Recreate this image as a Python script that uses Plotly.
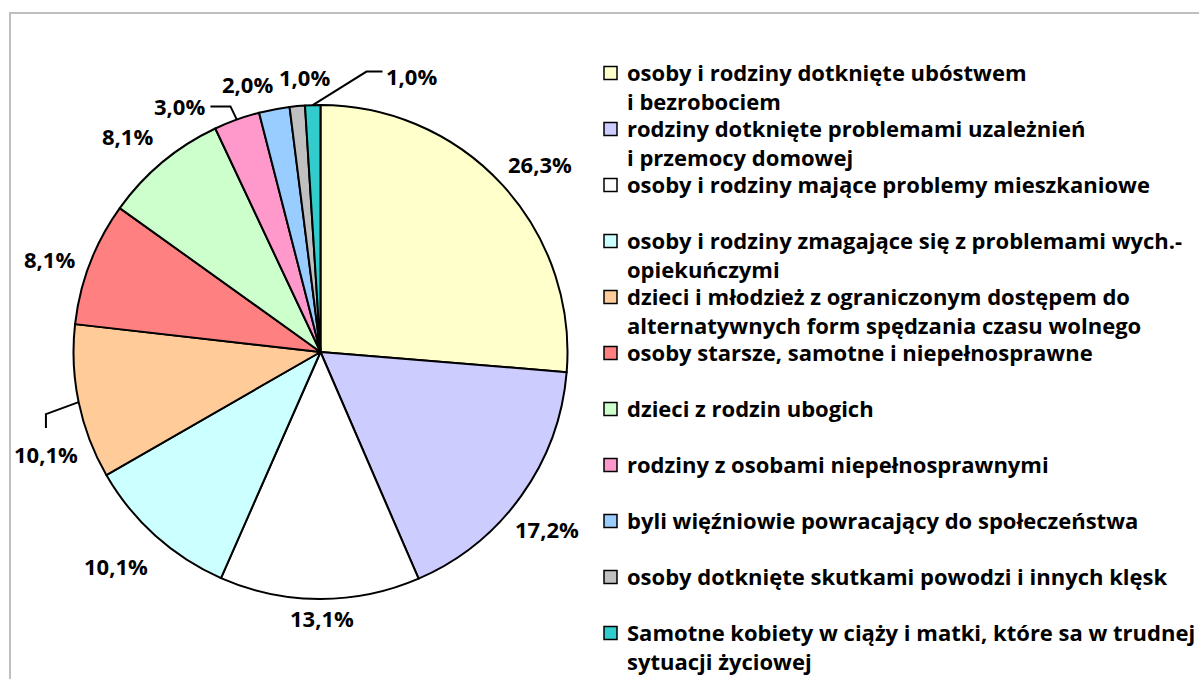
import math
import plotly.graph_objects as go

# ---- data ----
categories = [
    "osoby i rodziny dotknięte ubóstwem<br>i bezrobociem",
    "rodziny dotknięte problemami uzależnień<br>i przemocy domowej",
    "osoby i rodziny mające problemy mieszkaniowe",
    "osoby i rodziny zmagające się z problemami wych.-<br>opiekuńczymi",
    "dzieci i młodzież z ograniczonym dostępem do<br>alternatywnych form spędzania czasu wolnego",
    "osoby starsze, samotne i niepełnosprawne",
    "dzieci z rodzin ubogich",
    "rodziny z osobami niepełnosprawnymi",
    "byli więźniowie powracający do społeczeństwa",
    "osoby dotknięte skutkami powodzi i innych klęsk",
    "Samotne kobiety w ciąży i matki, które sa w trudnej<br>sytuacji życiowej",
]
values = [26.3, 17.2, 13.1, 10.1, 10.1, 8.1, 8.1, 3.0, 2.0, 1.0, 1.0]
colors = ["#FFFFCC", "#CCCCFF", "#FFFFFF", "#CCFFFF", "#FFCC99", "#FF8080",
          "#CCFFCC", "#FF99CC", "#99CCFF", "#C0C0C0", "#33CCCC"]

# ---- layout helpers ----
W, H = 1199, 679
CX, CY, R = 320.5, 352.0, 247.0


def px(x):
    return x / W


def py(y):
    return 1 - y / H


FONT = "Open Sans"

# label placement style: radial factor, pixel nudge, optional leader offsets
label_k = [1.16, 1.16, 1.07, 1.16, 1.16, 1.16, 1.16, 1.16, 1.16, 1.16, 1.16]
label_nudge = [(9, 6), (-6, 10), (2, 2), (-13, 1), (6, 44), (-4, 10), (-10, 4),
               (-44, 24), (-19, 13), (11, 10), (100, 10)]
leaders = [None, None, None, None, [(0, -26), (0, -40)], None, None,
           [(31, 0), (51, 0)], None, None, [(-29, -4), (-45, -4)]]

# legend layout style (pixels)
LEG_X_BOX, LEG_BOX = 604, 13
LEG_X_TEXT = 625
LEG_Y0, LEG_STEP = 73, 56
LEG_FONT = 22
LEG_LINE = LEG_FONT * 1.3

fig = go.Figure()
fig.add_trace(go.Pie(
    labels=[c.replace("<br>", " ") for c in categories],
    values=values,
    sort=False,
    direction="clockwise",
    rotation=0,
    textinfo="none",
    hoverinfo="label+percent",
    showlegend=False,
    marker=dict(colors=colors, line=dict(color="black", width=2)),
    domain=dict(x=[px(CX - R), px(CX + R)], y=[py(CY + R), py(CY - R)]),
))

total = sum(values)
annotations = []
shapes = []
cum = 0.0
for i, v in enumerate(values):
    mid = (cum + v / 2) / total * 2 * math.pi
    cum += v
    dx, dy = math.sin(mid), -math.cos(mid)
    k = label_k[i]
    nx, ny = label_nudge[i]
    lx = CX + R * k * dx + nx
    ly = CY + R * k * dy + ny
    txt = f"{v:.1f}%".replace(".", ",")
    annotations.append(dict(
        x=px(lx), y=py(ly), xref="paper", yref="paper", text=txt,
        showarrow=False, xanchor="center", yanchor="middle",
        font=dict(family=FONT, size=22, color="black", weight="bold"),
    ))
    if leaders[i] is not None:
        ax0, ay0 = CX + R * dx, CY + R * dy
        (e1x, e1y), (e2x, e2y) = leaders[i]
        pts = [(ax0, ay0), (lx + e2x, ly + e2y), (lx + e1x, ly + e1y)]
        path = "M " + " L ".join(f"{px(a)},{py(b)}" for a, b in pts)
        shapes.append(dict(type="path", xref="paper", yref="paper", path=path,
                           line=dict(color="black", width=2)))

# legend (swatches + text)
for i, (cat, col) in enumerate(zip(categories, colors)):
    yc = LEG_Y0 + LEG_STEP * i
    shapes.append(dict(type="rect", xref="paper", yref="paper",
                       x0=px(LEG_X_BOX), x1=px(LEG_X_BOX + LEG_BOX),
                       y0=py(yc - LEG_BOX / 2), y1=py(yc + LEG_BOX / 2),
                       fillcolor=col, line=dict(color="black", width=1.5)))
    annotations.append(dict(
        x=px(LEG_X_TEXT), y=py(yc - LEG_LINE / 2 - 4), xref="paper", yref="paper",
        text=cat, showarrow=False, xanchor="left", yanchor="top", align="left",
        font=dict(family=FONT, size=LEG_FONT, color="black", weight="bold"),
    ))

# chart frame
shapes.append(dict(type="rect", xref="paper", yref="paper",
                   x0=px(10), y0=py(13), x1=px(1215), y1=py(695),
                   line=dict(color="#BFBFBF", width=2), fillcolor="rgba(0,0,0,0)",
                   layer="below"))

fig.update_layout(
    width=W, height=H,
    margin=dict(l=0, r=0, t=0, b=0),
    paper_bgcolor="white",
    plot_bgcolor="white",
    showlegend=False,
    annotations=annotations,
    shapes=shapes,
)

fig.write_html("out.html", config={"displayModeBar": False},
               post_script="document.body.style.margin='0px';")
